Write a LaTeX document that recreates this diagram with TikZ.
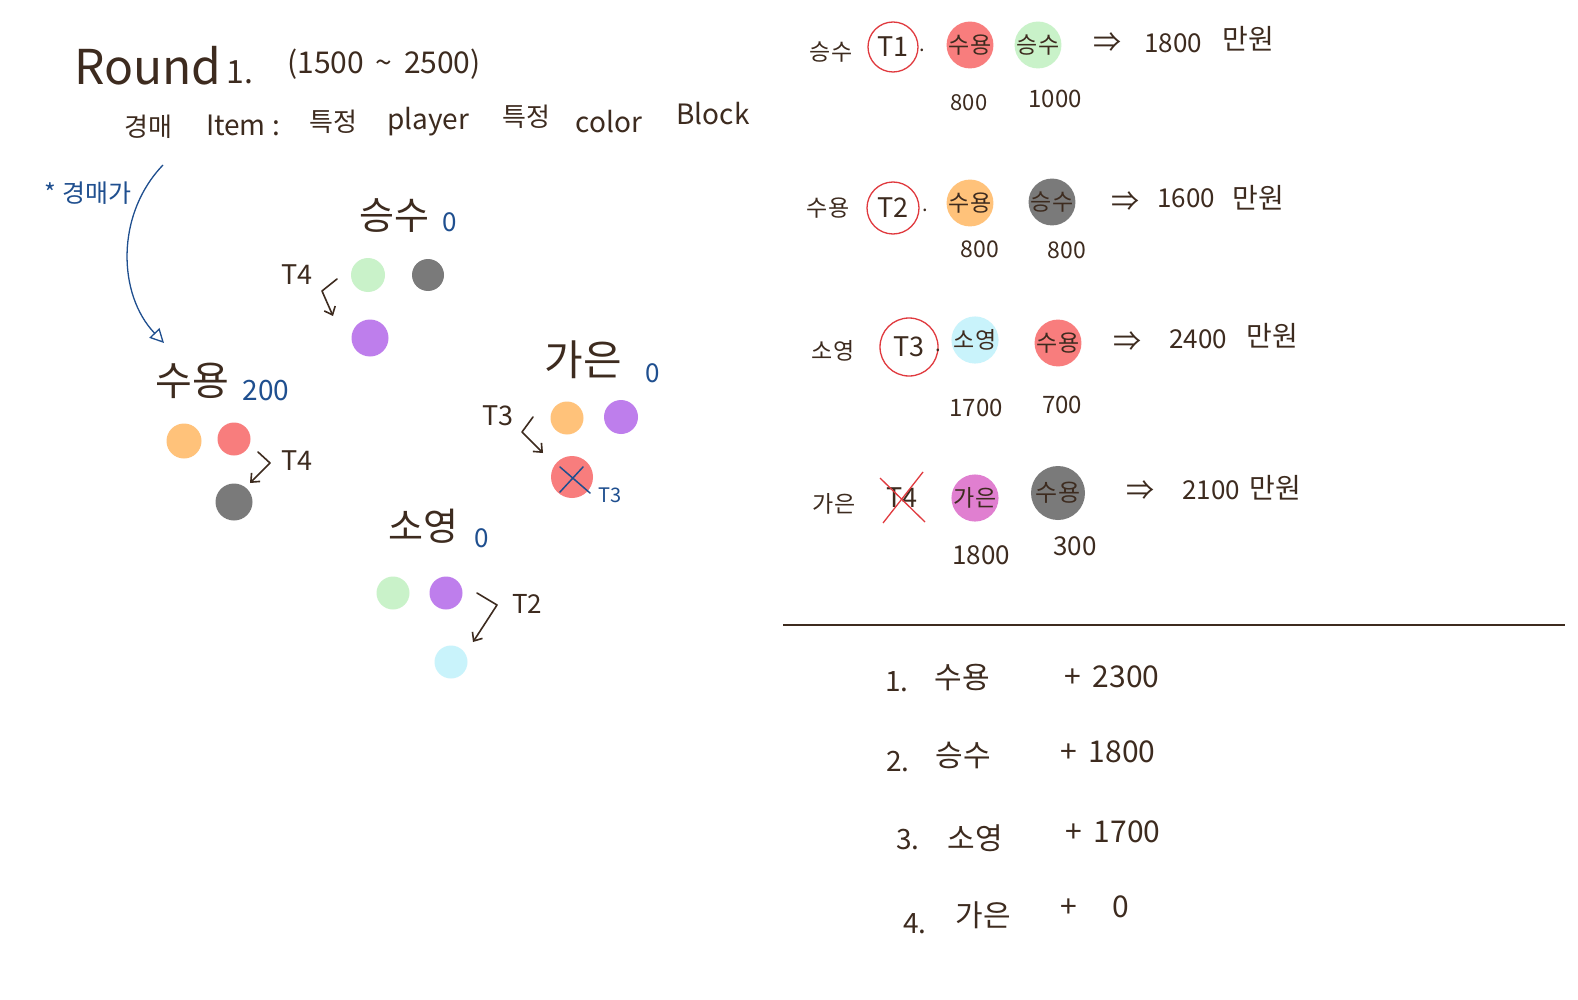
\documentclass[tikz,border=0pt]{standalone}
\usepackage{fontspec}
\setmainfont{Noto Sans CJK KR}
\usetikzlibrary{arrows.meta,calc}
\definecolor{ink}{HTML}{3D2B1F}
\definecolor{bluec}{HTML}{1F4F8F}
\definecolor{redc}{HTML}{E0393E}
\definecolor{lgreen}{HTML}{C9F2C9}
\definecolor{dgray}{HTML}{7A7A7A}
\definecolor{purp}{HTML}{BE7EEC}
\definecolor{orng}{HTML}{FFC27A}
\definecolor{salmon}{HTML}{F87D7D}
\definecolor{lcyan}{HTML}{C9F3FB}
\definecolor{pinkc}{HTML}{E07FD0}
\newcommand\myfs[1]{\fontsize{#1}{#1}\selectfont}
\begin{document}
\begin{tikzpicture}[x=1pt,y=-1pt,
  tx/.style={text=ink, inner sep=0pt, font=\myfs{#1}},
  bl/.style={text=bluec, inner sep=0pt, font=\myfs{#1}},
  blob/.style={circle, inner sep=0pt, minimum size=#1},
  tcirc/.style={circle, draw=redc, line width=1.3pt, minimum size=#1, text=ink, inner sep=0pt, font=\myfs{27}},
  hook/.style={draw=ink, line width=1.6pt, -{Straight Barb[length=7pt,width=12pt]}, line join=round, line cap=round}]
\useasboundingbox[fill=white] (0,0) rectangle (1578,1000);

% ---------- title ----------
\node[tx=48] (round) at (148,66) {Round};
\node[tx=32] (one) at (240,72) {1.};
\node[tx=30] (range) at (384,64) {(1500 \,\~{}\, 2500)};
\node[tx=26] (kyung) at (148,127) {경매};
\node[tx=28] (item) at (243,125) {Item :};
\node[tx=26] (tj1) at (333,122) {특정};
\node[tx=28] (player) at (428,122) {player};
\node[tx=26] (tj2) at (526,117) {특정};
\node[tx=28] (color) at (609,122) {color};
\node[tx=28] (block) at (713,114) {Block};

% ---------- auction note ----------
\node[bl=25] (auc) at (88,193) {* 경매가};
\coordinate (auctop) at (163,165);
\coordinate (auctip) at (164,343);
\draw[bluec, line width=1.3pt, -{Triangle[open,length=14pt,width=14pt]}]
  (auctop) .. controls (115,215) and (118,295) .. (auctip);

% ---------- 승수 ----------
\node[tx=38] (sseungsu) at (394,216) {승수};
\node[bl=26] (s0) at (450,222) {0};
\node[tx=27] (sT4) at (297,275) {T4};
\node[blob=34, fill=lgreen] (sg) at (368,275) {};
\node[blob=32, fill=dgray] (sk) at (428,275) {};
\node[blob=37, fill=purp] (sp) at (370,338) {};
\coordinate (sa1) at (337,279);
\coordinate (sa2) at (322,291);
\coordinate (sa3) at (333,316);
\draw[hook] (sa1) -- (sa2) -- (sa3);

% ---------- 수용 ----------
\node[tx=40] (ssuyong) at (192,381) {수용};
\node[bl=28] (y200) at (266,391) {200};
\node[blob=35, fill=orng] (yo) at (184,441) {};
\node[blob=33, fill=salmon] (yr) at (234,439) {};
\node[blob=37, fill=dgray] (yk) at (234,502) {};
\node[tx=27] (yT4) at (297,461) {T4};
\coordinate (ya1) at (258,452);
\coordinate (ya2) at (270,463);
\coordinate (ya3) at (250,483);
\draw[hook] (ya1) -- (ya2) -- (ya3);

% ---------- 가은 ----------
\node[tx=42] (sgaeun) at (583,360) {가은};
\node[bl=26] (g0) at (653,373) {0};
\node[tx=27] (gT3) at (498,416) {T3};
\node[blob=33, fill=orng] (go) at (567,418) {};
\node[blob=34, fill=purp] (gp) at (621,417) {};
\node[blob=42, fill=salmon] (gr) at (572,477) {};
\draw[bluec, line width=1.5pt, line cap=round] ($(gr.center)+(-12,-10)$) -- ($(gr.center)+(18,16)$);
\draw[bluec, line width=1.5pt, line cap=round] ($(gr.center)+(11,-10)$) -- ($(gr.center)+(-12,15)$);
\node[bl=20] (gT3b) at (610,495) {T3};
\coordinate (ga1) at (533,417);
\coordinate (ga2) at (522,432);
\coordinate (ga3) at (543,453);
\draw[hook] (ga1) -- (ga2) -- (ga3);

% ---------- 소영 ----------
\node[tx=38] (ssoyoung) at (423,526) {소영};
\node[bl=26] (so0) at (482,538) {0};
\node[blob=33, fill=lgreen] (og) at (393,593) {};
\node[blob=33, fill=purp] (op) at (446,593) {};
\node[blob=33, fill=lcyan] (oc) at (451,662) {};
\node[tx=26] (oT2) at (527,604) {T2};
\coordinate (oa1) at (477,593);
\coordinate (oa2) at (497,605);
\coordinate (oa3) at (473,642);
\draw[hook] (oa1) -- (oa2) -- (oa3);

% ---------- right: row 1 ----------
\node[tx=23] (r1n) at (831,52) {승수};
\node[tcirc=50] (r1t) at (893,47) {T1};
\node[tx=20] (r1d) at (922,50) {.};
\node[blob=36, fill=salmon, tx=23] (r1a) at (970,45) {수용};
\node[blob=34, fill=lgreen, tx=23] (r1b) at (1038,45) {승수};
\node[tx=28] (r1arr) at (1107,43) {⇒};
\node[tx=26] (r1sum) at (1173,43) {1800};
\node[tx=28] (r1man) at (1248,39) {만원};
\node[tx=22] (r1v1) at (969,103) {800};
\node[tx=24] (r1v2) at (1055,99) {1000};

% ---------- row 2 ----------
\node[tx=23] (r2n) at (828,208) {수용};
\node[tcirc=52] (r2t) at (893,208) {T2};
\node[tx=20] (r2d) at (925,210) {.};
\node[blob=42, fill=orng, tx=23] (r2a) at (970,203) {수용};
\node[blob=44, fill=dgray, tx=23] (r2b) at (1052,202) {승수};
\node[tx=28] (r2arr) at (1125,202) {⇒};
\node[tx=26] (r2sum) at (1186,198) {1600};
\node[tx=28] (r2man) at (1258,198) {만원};
\node[tx=23] (r2v1) at (980,249) {800};
\node[tx=23] (r2v2) at (1067,250) {800};

% ---------- row 3 ----------
\node[tx=23] (r3n) at (833,351) {소영};
\node[tcirc=58] (r3t) at (909,347) {T3};
\node[tx=20] (r3d) at (938,350) {.};
\node[blob=46, fill=lcyan, tx=23] (r3a) at (975,340) {소영};
\node[blob=46, fill=salmon, tx=23] (r3b) at (1058,343) {수용};
\node[tx=28] (r3arr) at (1127,342) {⇒};
\node[tx=26] (r3sum) at (1198,339) {2400};
\node[tx=28] (r3man) at (1272,336) {만원};
\node[tx=24] (r3v1) at (976,408) {1700};
\node[tx=24] (r3v2) at (1062,405) {700};

% ---------- row 4 ----------
\node[tx=23] (r4n) at (834,504) {가은};
\node[tx=27] (r4t) at (902,498) {T4};
\coordinate (x1a) at (880,478);
\coordinate (x1b) at (925,522);
\coordinate (x2a) at (923,472);
\coordinate (x2b) at (883,523);
\draw[redc, line width=1.3pt] (x1a) -- (x1b);
\draw[redc, line width=1.3pt] (x2a) -- (x2b);
\node[blob=44, fill=pinkc, tx=23] (r4a) at (975,498) {가은};
\node[blob=54, fill=dgray, tx=24] (r4b) at (1058,493) {수용};
\node[tx=28] (r4arr) at (1140,491) {⇒};
\node[tx=26] (r4sum) at (1211,490) {2100};
\node[tx=28] (r4man) at (1275,488) {만원};
\node[tx=26] (r4v1) at (981,555) {1800};
\node[tx=26] (r4v2) at (1075,546) {300};

% ---------- divider ----------
\coordinate (divl) at (783,625);
\coordinate (divr) at (1565,625);
\draw[ink, line width=1.3pt] (divl) -- (divr);

% ---------- ranking ----------
\node[tx=28] (k1) at (897,682) {1.};
\node[tx=30] (k1n) at (962,678) {수용};
\node[tx=30] (k1v) at (1112,677) {+\, 2300};
\node[tx=28] (k2) at (898,762) {2.};
\node[tx=30] (k2n) at (963,755) {승수};
\node[tx=30] (k2v) at (1108,752) {+\, 1800};
\node[tx=28] (k3) at (908,840) {3.};
\node[tx=30] (k3n) at (975,838) {소영};
\node[tx=30] (k3v) at (1113,832) {+\, 1700};
\node[tx=28] (k4) at (915,924) {4.};
\node[tx=30] (k4n) at (983,915) {가은};
\node[tx=30] (k4v) at (1095,907) {+\quad\,0};
\end{tikzpicture}
\end{document}
